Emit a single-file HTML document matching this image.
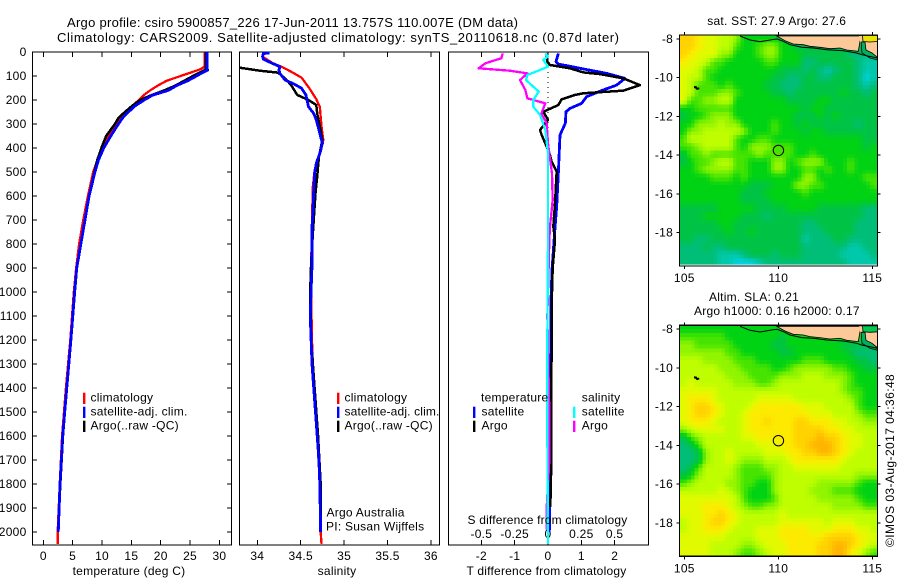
<!DOCTYPE html>
<html>
<head>
<meta charset="utf-8">
<title>Argo profile csiro 5900857_226</title>
<style>
html,body{margin:0;padding:0;background:#fff;width:900px;height:580px;overflow:hidden}
svg{display:block}
text{font-family:"Liberation Sans",sans-serif;font-size:12px;fill:#000;letter-spacing:.25px}
.ttl{font-size:13px;letter-spacing:0}
</style>
</head>
<body>
<svg id="fig" xmlns="http://www.w3.org/2000/svg" width="900" height="580" viewBox="0 0 900 580">
  <defs>
    <clipPath id="cp1"><rect x="32.5" y="52" width="199" height="493"/></clipPath>
    <clipPath id="cp2"><rect x="239.5" y="52" width="200" height="493"/></clipPath>
    <clipPath id="cp3"><rect x="448.5" y="52" width="200" height="493"/></clipPath>
    <clipPath id="cpm1"><rect x="679.5" y="35" width="198" height="231"/></clipPath>
    <clipPath id="cpm2"><rect x="679.5" y="325.3" width="198" height="231"/></clipPath>
  </defs>

  <text class="ttl" x="67" y="27" textLength="451" lengthAdjust="spacing">Argo profile: csiro 5900857_226 17-Jun-2011 13.757S 110.007E (DM data)</text>
  <text class="ttl" x="57" y="42" textLength="562" lengthAdjust="spacing">Climatology: CARS2009. Satellite-adjusted climatology: synTS_20110618.nc (0.87d later)</text>

  <g id="p1"></g>
  <g id="p2"></g>
  <g id="p3"></g>
  <g id="m1"></g>
  <g id="m2"></g>

  <text x="129" y="575" text-anchor="middle">temperature (deg C)</text>
  <text x="337" y="575" text-anchor="middle">salinity</text>
  <text x="546.5" y="575" text-anchor="middle" textLength="160" lengthAdjust="spacing">T difference from climatology</text>
  <text x="547.5" y="524" text-anchor="middle" textLength="160" lengthAdjust="spacing">S difference from climatology</text>

  <g>
    <rect x="83" y="392.7" width="2.4" height="11.3" fill="#f00"/>
    <rect x="83" y="406.7" width="2.4" height="11.3" fill="#00f"/>
    <rect x="83" y="420.7" width="2.4" height="11.3" fill="#000"/>
    <text x="90.5" y="401.7">climatology</text>
    <text x="90.5" y="415.7">satellite-adj. clim.</text>
    <text x="90.5" y="429.7">Argo(..raw -QC)</text>
  </g>
  <g>
    <rect x="337" y="392.7" width="2.4" height="11.3" fill="#f00"/>
    <rect x="337" y="406.7" width="2.4" height="11.3" fill="#00f"/>
    <rect x="337" y="420.7" width="2.4" height="11.3" fill="#000"/>
    <text x="344.5" y="401.7">climatology</text>
    <text x="344.5" y="415.7" style="letter-spacing:.15px">satellite-adj. clim.</text>
    <text x="344.5" y="429.7">Argo(..raw -QC)</text>
  </g>
  <g>
    <text x="481" y="401.7">temperature</text>
    <rect x="473" y="406.7" width="2.4" height="11.3" fill="#00f"/>
    <text x="481.5" y="415.7">satellite</text>
    <rect x="473" y="420.7" width="2.4" height="11.3" fill="#000"/>
    <text x="481.5" y="429.7">Argo</text>
    <text x="581.7" y="401.7">salinity</text>
    <rect x="573" y="406.7" width="2.4" height="11.3" fill="#0ff"/>
    <text x="581.7" y="415.7">satellite</text>
    <rect x="573" y="420.7" width="2.4" height="11.3" fill="#f0f"/>
    <text x="581.7" y="429.7">Argo</text>
  </g>
  <text x="326.5" y="516.7">Argo Australia</text>
  <text x="326" y="530.7">PI: Susan Wijffels</text>

  <text x="776.7" y="25" text-anchor="middle">sat. SST: 27.9 Argo: 27.6</text>
  <text x="709" y="301">Altim. SLA: 0.21</text>
  <text x="694" y="315">Argo h1000: 0.16 h2000: 0.17</text>
  <text transform="translate(894,547) rotate(-90)" textLength="173" lengthAdjust="spacing">©IMOS 03-Aug-2017 04:36:48</text>
</svg>

<script>
/* ---------- chart data ---------- */
const depthTicks = [0,100,200,300,400,500,600,700,800,900,1000,1100,1200,1300,1400,1500,1600,1700,1800,1900,2000];
const tempTicks = [0,5,10,15,20,25,30];
const salTicks = [34,34.5,35,35.5,36];
const salTickLabels = ['34','34.5','35','35.5','36'];
const diffTTicks = [-2,-1,0,1,2];
const diffTTickLabels = ['-2','-1','0','1','2'];
const diffSTicks = [-0.5,-0.25,0,0.25,0.5];
const diffSTickLabels = ['-0.5','-0.25','0','0.25','0.5'];
const lonTicks = [105,110,115];
const latTicks = [-8,-10,-12,-14,-16,-18];

const tempDepths = [0,60,70,75,85,100,120,140,160,180,200,225,250,275,300,350,400,450,500,600,700,800,900,1000,1200,1400,1600,1800,2000,2050];
const tempClim = [27.5,27.5,26.9,26.4,25.2,23.4,21.0,19.5,18.2,17.1,16.3,15.1,13.9,13.0,12.3,11.1,10.1,9.2,8.5,7.6,6.8,6.1,5.6,5.2,4.6,3.85,3.2,2.8,2.45,2.45];
const tempSatDepths = [0,60,70,75,85,100,120,140,160,180,200,225,250,275,300,350,400,450,500,600,700,800,900,1000,1200,1400,1600,1800,2000];
const tempSat = [27.9,27.9,27.9,28.0,27.2,26.1,24.6,22.7,21.3,18.6,17.2,15.6,14.5,13.5,12.8,11.5,10.3,9.4,8.8,7.8,7.1,6.4,5.7,5.35,4.7,4.0,3.3,2.85,2.55];
const tempArgoDepths = [0,60,70,75,85,100,120,140,160,180,200,225,250,275,300,350,400,450,500,600,700,800,900,1000,1200,1400,1600,1800,1950];
const tempArgo = [27.7,27.7,27.7,27.5,26.7,25.5,24.0,22.5,20.6,18.4,16.5,15.1,13.9,12.8,12.2,10.7,9.9,9.2,8.7,7.8,7.1,6.4,5.7,5.3,4.7,4.0,3.35,2.9,2.6];

const salClimDepths = [6,19,45,65,86,107,151,197,228,311,367,415,492,561,700,900,1000,1200,1400,1600,1800,2000,2050];
const salClim = [34.07,34.06,34.17,34.30,34.41,34.51,34.60,34.68,34.72,34.74,34.76,34.73,34.66,34.64,34.63,34.62,34.62,34.63,34.65,34.69,34.72,34.73,34.74];
const salSatDepths = [5,6,19,30,47,61,75,89,117,131,151,179,228,256,283,339,381,422,464,506,575,672,728,894,992,1100,1200,1300,1400,1500,1600,1700,1800,1900,2000];
const salSat = [34.14,34.07,34.06,34.07,34.17,34.26,34.25,34.26,34.32,34.41,34.51,34.56,34.59,34.65,34.68,34.72,34.75,34.72,34.68,34.66,34.65,34.64,34.63,34.63,34.62,34.61,34.62,34.63,34.65,34.67,34.69,34.71,34.72,34.725,34.73];
const salArgoDepths = [65,78,86,110,138,179,200,221,256,311,367,436,519,589,644,756,881,992,1200,1400,1600,1800,1980];
const salArgo = [33.79,34.03,34.24,34.32,34.39,34.46,34.59,34.68,34.69,34.72,34.75,34.71,34.69,34.67,34.66,34.64,34.62,34.61,34.62,34.66,34.70,34.73,34.73];

const dTSatDepths = [6,40,50,68,89,110,138,158,186,214,235,249,297,346,408,506,644,769,908,1033,1500,1900,2000];
const dTSat = [0.31,0.24,0.31,0.96,1.76,2.31,2.06,1.66,1.16,1.01,0.66,0.54,0.52,0.36,0.34,0.31,0.26,0.19,0.12,0.09,0.07,0.05,0.04];
const dTArgoDepths = [6,40,54,68,85,92,110,138,161,172,179,197,221,249,283,325,346,394,429,457,499,631,728,783,900,1000,1400,1700,1895];
const dTArgo = [-0.04,-0.02,0.06,0.66,1.06,1.56,2.26,2.76,2.26,1.06,0.81,0.41,0.31,-0.14,0,-0.24,-0.19,-0.04,0.06,0.11,0.26,0.21,0.16,0.21,0.14,0.12,0.10,0.10,0.07];
const dSArgoDepths = [6,26,47,68,78,89,117,158,193,214,256,297,381,506,617,728,783,1000,1100,1500,1700,1900,1990];
const dSArgo = [-0.34,-0.35,-0.47,-0.52,-0.285,-0.155,-0.21,-0.17,-0.155,-0.02,-0.05,-0.01,0,0.03,0.035,0.015,0.01,0,-0.005,0.01,0.01,-0.01,-0.01];
const dSSatDepths = [6,19,33,61,75,96,117,165,200,228,262,325,422,575,776,1200,1600,2050];
const dSSat = [-0.02,0,-0.035,0,-0.06,-0.155,-0.165,-0.07,-0.11,-0.11,-0.06,-0.02,0,0,0,-0.005,-0.005,0];

/* heat-map values on a colour-level scale, rows north to south */
const sstRows = [
[10,10,9,8,8,7,7,6,4,4,4,4,4,4,4,4,4,4,4,4,4,4,4,4,4,4],
[10,10,9,8,8,7,7,5,4,4,5,6,6,4,4,3,3,3,3,3,3,3,3,3,3,3],
[10,9,8,8,8,6,6,4,4,4,5,6,6,4,4,4,3,3,3,3,3,3,2,2,2,2],
[9,8,8,7,5,5,4,4,4,4,4,5,5,4,4,4,2,2,3,3,3,3,3,2,1,1],
[8,8,7,5,5,4,4,4,4,4,4,4,4,3,3,3,2,3,2,1,2,3,3,2,1,1],
[8,7,7,5,4,4,4,4,4,4,4,4,3,3,2,2,3,3,2,2,3,3,3,2,0,1],
[8,7,5,5,5,4,5,4,4,4,4,3,3,2,2,2,3,3,3,3,3,3,3,2,1,2],
[8,7,5,5,5,6,6,5,4,4,4,4,3,3,2,3,3,3,3,3,3,4,3,3,2,3],
[8,5,5,6,6,7,7,4,4,4,4,4,4,4,3,3,3,3,4,4,3,3,3,3,3,3],
[4,4,5,5,5,5,5,4,4,4,4,4,4,4,4,4,3,4,4,3,3,3,3,3,3,3],
[3,4,4,5,6,6,6,4,4,4,4,4,4,4,4,3,3,3,4,3,4,3,3,3,3,3],
[4,4,6,6,6,7,6,6,4,4,4,4,5,4,4,3,4,3,3,3,3,3,3,2,3,3],
[4,6,6,7,7,7,7,7,6,4,4,4,5,4,4,4,3,4,4,3,3,3,3,3,3,3],
[5,7,7,7,7,7,7,5,4,4,5,5,4,4,4,4,4,4,4,4,4,4,4,4,3,3],
[5,5,6,7,7,7,7,5,4,6,6,6,5,5,5,4,4,4,4,4,4,4,4,4,3,4],
[3,5,5,6,5,5,5,5,5,5,6,5,5,5,5,4,4,5,4,4,4,4,4,4,4,4],
[3,4,5,5,6,7,7,5,5,4,4,4,6,6,4,5,6,6,6,4,4,4,5,4,4,4],
[4,4,5,6,6,6,6,5,5,4,4,4,6,6,4,4,5,5,4,5,4,4,5,4,4,4],
[4,4,4,4,5,5,5,4,5,4,4,4,4,4,4,4,6,6,4,4,4,4,4,4,5,5],
[4,4,4,4,4,4,4,4,4,3,3,3,4,4,4,6,6,5,5,4,4,4,4,4,4,5],
[4,4,4,4,4,4,4,4,3,3,3,4,4,4,4,4,5,4,4,4,4,4,4,4,4,4],
[4,4,4,4,4,4,4,4,3,3,3,3,4,4,4,4,4,4,4,4,4,4,4,4,4,4],
[3,3,3,3,3,4,4,4,4,4,3,3,3,3,4,4,4,4,3,3,3,3,3,3,2,2],
[3,3,3,4,4,4,4,4,3,3,3,2,3,3,3,3,3,3,3,3,3,3,3,3,2,2],
[3,3,3,3,3,4,4,3,3,3,3,3,3,3,3,3,2,2,3,3,3,3,3,2,2,2],
[3,3,3,3,3,3,4,3,3,4,3,3,3,3,3,3,2,2,2,3,3,3,3,2,2,2],
[3,3,2,2,3,3,3,3,3,3,3,3,3,3,3,3,1,2,2,2,3,3,2,2,2,2],
[2,2,2,3,2,2,3,3,3,3,3,3,3,3,3,3,2,2,2,2,2,2,1,1,2,2],
[2,2,2,2,2,1,1,1,2,3,3,3,2,3,3,3,2,2,2,2,2,1,1,1,1,2],
[2,2,2,2,2,1,1,0,0,0,1,2,2,2,2,2,2,2,2,2,2,2,1,1,1,1]
];
const slaRows = [
[4,4,4,4,4,4,4,4,4,4,4,4,4,4,4,4,4,4,4,4,4,4,4,4,4,4],
[5,5,5,5,5,5,4,4,4,4,4,4,4,3,4,4,4,4,4,4,4,4,4,4,4,4],
[6,6,5,5,5,5,5,4,4,4,4,4,3,3,4,4,4,4,4,4,4,3,3,3,3,3],
[6,6,6,6,6,6,5,5,4,4,4,4,4,3,3,4,4,4,4,4,4,4,3,2,2,2],
[7,7,7,6,6,6,6,5,5,5,4,4,4,4,4,4,5,5,5,4,4,4,4,3,3,2],
[7,7,7,7,7,6,6,6,5,5,5,5,4,4,5,6,6,6,6,6,5,5,4,4,3,3],
[7,7,7,7,7,7,6,6,6,5,5,5,5,6,6,6,7,7,7,6,6,6,5,4,4,4],
[7,8,7,7,7,7,7,6,6,6,5,5,6,7,7,7,7,7,7,7,7,6,5,4,4,4],
[8,8,8,8,8,7,7,7,7,7,7,7,7,7,7,7,7,7,7,7,7,6,5,5,4,4],
[8,9,9,9,8,7,7,7,7,7,8,8,8,8,8,7,7,7,7,7,7,7,6,5,4,4],
[8,9,10,10,9,8,7,7,7,8,9,9,9,9,9,9,8,8,8,7,7,7,7,5,4,4],
[8,9,10,10,9,8,7,7,8,9,9,9,9,9,9,9,9,8,8,8,7,7,7,6,5,5],
[8,9,9,9,8,7,7,7,8,9,9,10,9,9,9,10,10,9,9,9,8,8,7,7,6,6],
[6,7,8,8,8,8,7,7,8,9,9,9,9,9,9,10,10,10,10,9,9,8,8,7,7,7],
[3,5,6,7,7,7,7,7,8,8,9,9,9,9,9,10,10,10,11,10,10,9,8,8,7,7],
[2,3,5,7,7,7,7,7,7,7,8,8,8,9,9,10,10,11,11,11,10,9,8,8,7,7],
[2,2,3,6,7,7,8,7,7,7,7,8,8,8,9,9,10,10,11,11,10,9,8,7,7,7],
[2,2,3,6,7,7,8,7,6,6,6,7,7,7,8,9,9,9,9,9,9,8,7,7,7,7],
[2,3,5,7,7,7,7,6,5,5,5,6,6,7,7,8,8,8,8,8,8,7,7,7,7,7],
[3,4,6,7,7,7,7,6,5,5,5,5,6,7,7,7,7,7,7,7,7,7,7,6,6,6],
[5,6,7,7,7,7,6,6,5,5,4,4,6,7,7,7,7,7,6,6,6,6,6,5,4,4],
[7,7,7,7,7,8,7,6,5,4,4,4,6,7,7,7,7,6,6,6,5,5,5,4,4,4],
[8,8,8,8,8,8,8,7,5,4,4,4,5,7,7,7,7,7,6,6,6,6,6,5,4,4],
[8,8,8,9,9,9,8,7,6,5,5,6,6,7,7,7,7,7,7,7,6,6,6,6,5,5],
[8,8,8,9,9,10,9,8,7,7,7,7,7,8,7,7,7,7,7,7,7,7,7,7,7,7],
[7,8,8,9,10,10,9,8,7,7,7,7,7,8,8,8,8,8,8,7,8,8,8,7,7,7],
[7,8,8,9,9,9,8,7,7,7,8,8,8,9,9,9,9,8,8,8,9,9,9,8,8,7],
[8,8,8,8,8,8,7,7,7,7,8,8,8,9,9,9,9,9,9,10,10,10,10,9,8,8],
[8,8,8,8,7,7,7,7,6,6,7,8,8,8,9,9,9,9,10,10,11,11,10,9,8,7],
[8,8,8,8,7,7,7,6,5,5,6,7,8,8,9,9,9,9,10,10,11,11,9,8,6,5]
];
const argoLon = [110.007];
const argoLat = [-13.757];

/* ---------- helpers ---------- */
const NS = 'http://www.w3.org/2000/svg';
function mk(parent, tag, props){
  const el = document.createElementNS(NS, tag);
  for (const k in props) el.setAttribute(k, props[k]);
  parent.appendChild(el);
  return el;
}
const yOf = d => 52 + 0.24 * d;
const tempX = v => 43.3 + 5.87 * v;
const salX = v => 257.3 + 86.8 * (v - 34);
const diffTX = v => 548 + 33.33 * v;
const diffSX = v => 548 + 133.3 * v;
const lonX = v => 684.3 + 18.8 * (v - 105);
const lat1Y = v => 39 + 19.35 * (-8 - v);
const lat2Y = v => 329 + 19.4 * (-8 - v);

function drawAxisBox(g, x, w){
  const r = mk(g, 'rect', {x:x, y:52, width:w, height:493, fill:'none', stroke:'#000', 'stroke-width':1.4, 'shape-rendering':'crispEdges'});
  
  
}
function tick(g, x1, y1, x2, y2, w){
  const t = mk(g, 'line', {x1:x1, y1:y1, x2:x2, y2:y2, stroke:'#000', 'stroke-width':w || 1, 'shape-rendering':'crispEdges'});
  
  
}
function label(g, x, y, str, anchor){
  const t = mk(g, 'text', {x:x, y:y, 'text-anchor':anchor});
  t.textContent = str;
  
  
}
function drawLine(g, depths, values, xf, color, width, clip, name){
  const n = Math.min(depths.length, values.length);
  const pts = [];
  for (let i = 0; i < n; i++) pts.push(xf(values[i]).toFixed(2) + ',' + yOf(depths[i]).toFixed(2));
  const p = mk(g, 'polyline', {points:pts.join(' '), fill:'none', stroke:color, 'stroke-width':width, 'stroke-linejoin':'round', 'clip-path':'url(#' + clip + ')', 'shape-rendering':'crispEdges'});
  
  
}
function xTicks(g, ticks, labels, xf, labelY){
  ticks.forEach((v, i) => {
    const x = xf(v);
    tick(g, x, 52, x, 57);
    tick(g, x, 545, x, 540);
    label(g, x, labelY, labels[i], 'middle');
  });
}

/* ---------- temperature panel ---------- */
const p1 = document.getElementById('p1');
drawAxisBox(p1, 32.5, 199);
depthTicks.forEach(d => {
  tick(p1, 32.5, yOf(d), 37, yOf(d));
  tick(p1, 231.5, yOf(d), 227, yOf(d));
  label(p1, 26.5, yOf(d) + 4, String(d), 'end');
});
xTicks(p1, tempTicks, tempTicks.map(String), tempX, 560);
drawLine(p1, tempDepths, tempClim, tempX, '#f00', 2.3, 'cp1', 'temperature-climatology-line');
drawLine(p1, tempArgoDepths, tempArgo, tempX, '#000', 2.5, 'cp1', 'temperature-argo-line');
drawLine(p1, tempSatDepths, tempSat, tempX, '#00f', 2.8, 'cp1', 'temperature-satellite-line');

/* ---------- salinity panel ---------- */
const p2 = document.getElementById('p2');
drawAxisBox(p2, 239.5, 200);
xTicks(p2, salTicks, salTickLabels, salX, 560);
drawLine(p2, salClimDepths, salClim, salX, '#f00', 2.3, 'cp2', 'salinity-climatology-line');
drawLine(p2, salArgoDepths, salArgo, salX, '#000', 2.5, 'cp2', 'salinity-argo-line');
drawLine(p2, salSatDepths, salSat, salX, '#00f', 2.8, 'cp2', 'salinity-satellite-line');

/* ---------- difference panel ---------- */
const p3 = document.getElementById('p3');
drawAxisBox(p3, 448.5, 200);
xTicks(p3, diffTTicks, diffTTickLabels, diffTX, 560);
diffSTicks.forEach((v, i) => label(p3, diffSX(v), 538, diffSTickLabels[i], 'middle'));
const zero = mk(p3, 'line', {x1:diffTX(0), y1:52, x2:diffTX(0), y2:545, stroke:'#000', 'stroke-width':1, 'stroke-dasharray':'1 4', 'shape-rendering':'crispEdges'});


drawLine(p3, dTSatDepths, dTSat, diffTX, '#00f', 2.8, 'cp3', 't-difference-satellite-line');
drawLine(p3, dTArgoDepths, dTArgo, diffTX, '#000', 2.5, 'cp3', 't-difference-argo-line');
drawLine(p3, dSArgoDepths, dSArgo, diffSX, '#f0f', 2.3, 'cp3', 's-difference-argo-line');
drawLine(p3, dSSatDepths, dSSat, diffSX, '#0ff', 2.3, 'cp3', 's-difference-satellite-line');

/* ---------- maps ---------- */
const stops = [[0,210,225],[0,200,170],[0,190,120],[0,195,70],[0,210,20],[70,228,0],[145,244,0],[190,254,0],[225,250,0],[252,235,0],[255,210,0],[255,180,0]];
function levelColor(v){
  const c = Math.max(0, Math.min(stops.length - 1, v));
  const i = Math.min(stops.length - 2, Math.floor(c));
  const f = c - i;
  const a = stops[i], b = stops[i + 1];
  return 'rgb(' + Math.round(a[0] + (b[0] - a[0]) * f) + ',' + Math.round(a[1] + (b[1] - a[1]) * f) + ',' + Math.round(a[2] + (b[2] - a[2]) * f) + ')';
}
function drawCells(g, rows, top, sub, name){
  const nr = rows.length, nc = rows[0].length;
  const W = 198, H = 231, L = 679.5;
  const cw = W / (nc * sub), ch = H / (nr * sub);
  for (let r = 0; r < nr * sub; r++){
    for (let c = 0; c < nc * sub; c++){
      const fy = Math.max(0, Math.min(nr - 1.001, (r + 0.5) / sub - 0.5));
      const fx = Math.max(0, Math.min(nc - 1.001, (c + 0.5) / sub - 0.5));
      const r0 = Math.floor(fy), c0 = Math.floor(fx);
      const ty = fy - r0, tx = fx - c0;
      const v = (rows[r0][c0] * (1 - tx) + rows[r0][c0 + 1] * tx) * (1 - ty) + (rows[r0 + 1][c0] * (1 - tx) + rows[r0 + 1][c0 + 1] * tx) * ty;
      const cell = mk(g, 'rect', {x:(L + c * cw).toFixed(2), y:(top + r * ch).toFixed(2), width:(cw + 0.4).toFixed(2), height:(ch + 0.4).toFixed(2), fill:levelColor(v), 'shape-rendering':'crispEdges'});
      
      
    }
  }
}
function pts(list, dy){
  return list.map(p => p[0] + ',' + (p[1] + dy).toFixed(1)).join(' ');
}
function drawCoast(g, dy, band, patchColor){
  const landEdge = [[776.7,36],[785,40.7],[793.3,44],[803.3,44.7],[810,46.3],[820,47.3],[830,48.7],[840,48],[846.7,50],[858.3,51.3],[860,41.3],[861.7,36]];
  const coast = [[740,36],[750,40],[760,41.7],[773,39.5],[777,39],[783.3,41.3],[790,44.7],[801.7,47.3],[813.3,48],[826.7,49.7],[843.3,50.7],[856.7,53],[861.7,54.7],[877.5,58]];
  if (band){
    const b = mk(g, 'polygon', {points:pts(landEdge.slice(0,11).concat(coast.slice(4).reverse()), dy), fill:'#00b25a'});
    
    
  }
  const land = mk(g, 'polygon', {points:pts(landEdge, dy), fill:'#fdc998', stroke:'#000', 'stroke-width':.8});
  
  
  const right = mk(g, 'polygon', {points:pts([[859,36],[878,36],[878,60],[873,58],[868,54],[862,52]], dy), fill:'#fdc998'});
  
  
  const patch = mk(g, 'polygon', {points:pts([[862.5,35.5],[878,35.5],[878,41.5],[870,42],[863,41.5]], dy), fill:patchColor, stroke:'#000', 'stroke-width':.8});
  
  
  const strait = mk(g, 'polygon', {points:pts([[861,42],[865,42],[866,50],[872,53],[877,57],[878,60],[870,58],[862,53]], dy), fill:'#00b060', stroke:'#000', 'stroke-width':.8});
  
  
  const line = mk(g, 'polyline', {points:pts(coast, dy), fill:'none', stroke:'#000', 'stroke-width':1});
  
  
  const isl = mk(g, 'polygon', {points:pts([[694,86],[697,86.5],[697,87.5],[699,87.5],[699.5,89],[697,90],[695.5,88.5],[694,88]], dy), fill:'#000'});
  
  
}
function drawMap(g, rows, top, sub, cellName, clip, latY, band, patchColor){
  const cells = mk(g, 'g', {'clip-path':'url(#' + clip + ')'});
  
  
  drawCells(cells, rows, top, sub, cellName);
  const coast = mk(g, 'g', {'clip-path':'url(#' + clip + ')'});
  
  
  drawCoast(coast, top - 35, band, patchColor);
  if (band){
    const strip = mk(g, 'rect', {x:679.5, y:264.6, width:198, height:1.4, fill:'#fff'});
    
    
  }
  const frame = mk(g, 'rect', {x:679.5, y:top, width:198, height:231, fill:'none', stroke:'#000', 'stroke-width':1.4, 'shape-rendering':'crispEdges'});
  
  
  lonTicks.forEach(v => {
    tick(g, lonX(v), top, lonX(v), top - 3);
    tick(g, lonX(v), top + 231, lonX(v), top + 234);
    label(g, lonX(v), top + 247, String(v), 'middle');
  });
  latTicks.forEach(v => {
    tick(g, 679.5, latY(v), 676.5, latY(v));
    tick(g, 877.5, latY(v), 880.5, latY(v));
    label(g, 673, latY(v) + 4, String(v), 'end');
  });
  const m = mk(g, 'circle', {cx:lonX(argoLon[0]), cy:latY(argoLat[0]), r:5.2, fill:'none', stroke:'#000', 'stroke-width':1});
  
  
}
drawMap(document.getElementById('m1'), sstRows, 35, 2, 'sst-cell', 'cpm1', lat1Y, true, '#ece400');
drawMap(document.getElementById('m2'), slaRows, 325.3, 2, 'sla-cell', 'cpm2', lat2Y, false, '#00c850');
</script>
</body>
</html>
